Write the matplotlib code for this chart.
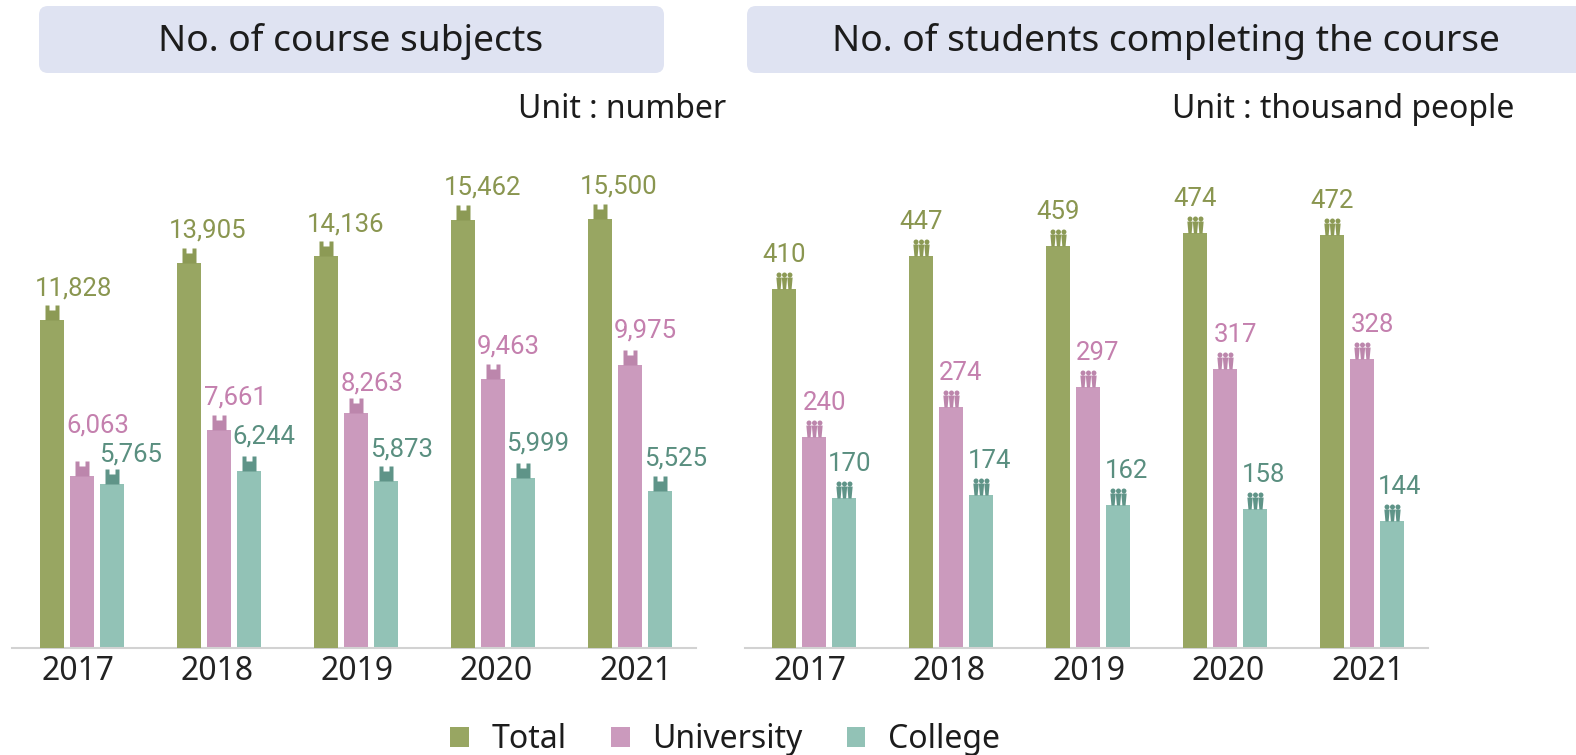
import matplotlib
matplotlib.use("Agg")
import matplotlib.pyplot as plt
import numpy as np
from matplotlib.patches import FancyBboxPatch, Patch
from matplotlib.path import Path
from matplotlib.transforms import Affine2D

years = ["2017", "2018", "2019", "2020", "2021"]
series_names = ["Total", "University", "College"]

subjects_total = [11828, 13905, 14136, 15462, 15500]
subjects_university = [6063, 7661, 8263, 9463, 9975]
subjects_college = [5765, 6244, 5873, 5999, 5525]

students_total = [410, 447, 459, 474, 472]
students_university = [240, 274, 297, 317, 328]
students_college = [170, 174, 162, 158, 144]

W, H = 1576, 755
BASE = 648
FILL = ["#98A662", "#CB9ABD", "#92C2B6"]
ICON = ["#8C9A55", "#BC86AC", "#5F9488"]
TEXT = ["#8A9650", "#C480AE", "#5A8F80"]
FONT = ["Noto Sans", "DejaVu Sans"]
LABEL_FONT = ["Roboto", "DejaVu Sans"]

# label placement relative to the top of each bar, in pixels
left_dx = [[22, 19, 20, 20, 19], [16, 16, 16, 15, 15], [18, 15, 15, 14, 15]]
left_dy = [[32, 32, 32, 32, 32], [50, 33, 30, 33, 34], [30, 34, 32, 34, 33]]
right_dx = [[0, 0, 0, 0, 0], [11, 10, 9, 10, 10], [5, 8, 8, 8, 7]]
right_dy = [[34, 34, 34, 34, 34], [34, 34, 34, 34, 34], [34, 34, 34, 34, 34]]


def book_icon():
    body = Path([(-7, 0), (7, 0), (7, 15), (-7, 15), (-7, 0)], closed=True)
    notch = Path([(-3, 10), (-3, 15), (3, 15), (3, 10), (-3, 10)], closed=True)
    pad = Path([(-17, -17), (-17, -17)])
    return Path.make_compound_path(body, notch, pad)


def people_icon():
    parts = []
    for cx in (-5.5, 0, 5.5):
        parts.append(Path([(cx - 1.6, 0), (cx + 1.6, 0), (cx + 2.7, 12),
                           (cx - 2.7, 12), (cx - 1.6, 0)], closed=True))
        parts.append(Path.circle((cx, 14.6), 2.5))
    return Path.make_compound_path(*parts)


def panel(fig, left, right, xmin, xmax, scales, data, dx, dy, marker):
    """One axes per distinct vertical scale: the reference draws Total a little shorter."""
    rect = [left / W, (H - BASE) / H, (right - left) / W, 498 / H]
    ax = fig.add_axes(rect)
    over = fig.add_axes(rect)
    x = np.arange(len(years))
    for a, s in ((ax, scales[1]), (over, scales[0])):
        a.set_xlim(xmin, xmax)
        a.set_ylim(0, 498 / s)
        a.patch.set_alpha(0)
    for i, vals in enumerate(data):
        target = over if i == 0 else ax
        xs = x + (i - 1) * 0.22
        target.bar(xs, vals, width=0.175, color=FILL[i], linewidth=0, zorder=2)
        target.plot(xs, vals, ls="none", marker=marker, ms=34 * 0.72, mfc=ICON[i],
                    mec="none", zorder=3, clip_on=False)
        for k, v in enumerate(vals):
            target.annotate(f"{v:,}", (xs[k], v),
                            xytext=(dx[i][k] * 0.72, dy[i][k] * 0.72),
                            textcoords="offset points", ha="center", va="center",
                            color=TEXT[i], fontsize=18.5, family=LABEL_FONT)
    over.axis("off")
    for s in ("top", "left", "right"):
        ax.spines[s].set_visible(False)
    ax.spines["bottom"].set_color("#D2D2D2")
    ax.spines["bottom"].set_linewidth(1.5)
    ax.set_yticks([])
    # the year labels are spaced slightly wider than the bar groups in the reference
    ax.set_xticks(x * 1.018 - 0.03, years, fontsize=23, family=FONT, color="#222222")
    ax.tick_params(axis="x", length=0, pad=5)
    return ax


fig = plt.figure(figsize=(W / 100, H / 100), dpi=100, facecolor="white")
px = Affine2D().scale(1, -1).translate(0, H)  # pixels from the top-left corner

for x0, x1, title, tx in [(39, 664, "No. of course subjects", 351),
                          (747, 1590, "No. of students completing the course", 1166)]:
    fig.add_artist(FancyBboxPatch((x0, 6), x1 - x0, 67,
                                  boxstyle="round,pad=0,rounding_size=9", mutation_scale=1,
                                  linewidth=0, facecolor="#DFE3F2", transform=px))
    fig.text(tx / W, 1 - 41 / H, title, ha="center", va="center",
             fontsize=26.8, family=FONT, color="#1c1c1c")

fig.text(726 / W, 1 - 110 / H, "Unit : number", ha="right", va="center",
         fontsize=23, family=FONT, color="#1c1c1c")
fig.text(1514 / W, 1 - 110 / H, "Unit : thousand people", ha="right", va="center",
         fontsize=23, family=FONT, color="#1c1c1c")

panel(fig, 12, 696, -0.51, 4.48, (0.0277, 0.0284),
      [subjects_total, subjects_university, subjects_college],
      left_dx, left_dy, book_icon())
panel(fig, 745, 1428, -0.504, 4.48, (0.876, 0.88),
      [students_total, students_university, students_college],
      right_dx, right_dy, people_icon())

handles = [Patch(facecolor=c, edgecolor="none") for c in FILL]
fig.legend(handles, series_names, ncol=3, loc="center", bbox_to_anchor=(725 / W, 1 - 740 / H),
           frameon=False, handlelength=0.58, handleheight=0.58,
           handletextpad=0.7, columnspacing=1.4, labelcolor="#1c1c1c",
           prop={"family": FONT, "size": 23})

fig.savefig("out.png", dpi=100)
